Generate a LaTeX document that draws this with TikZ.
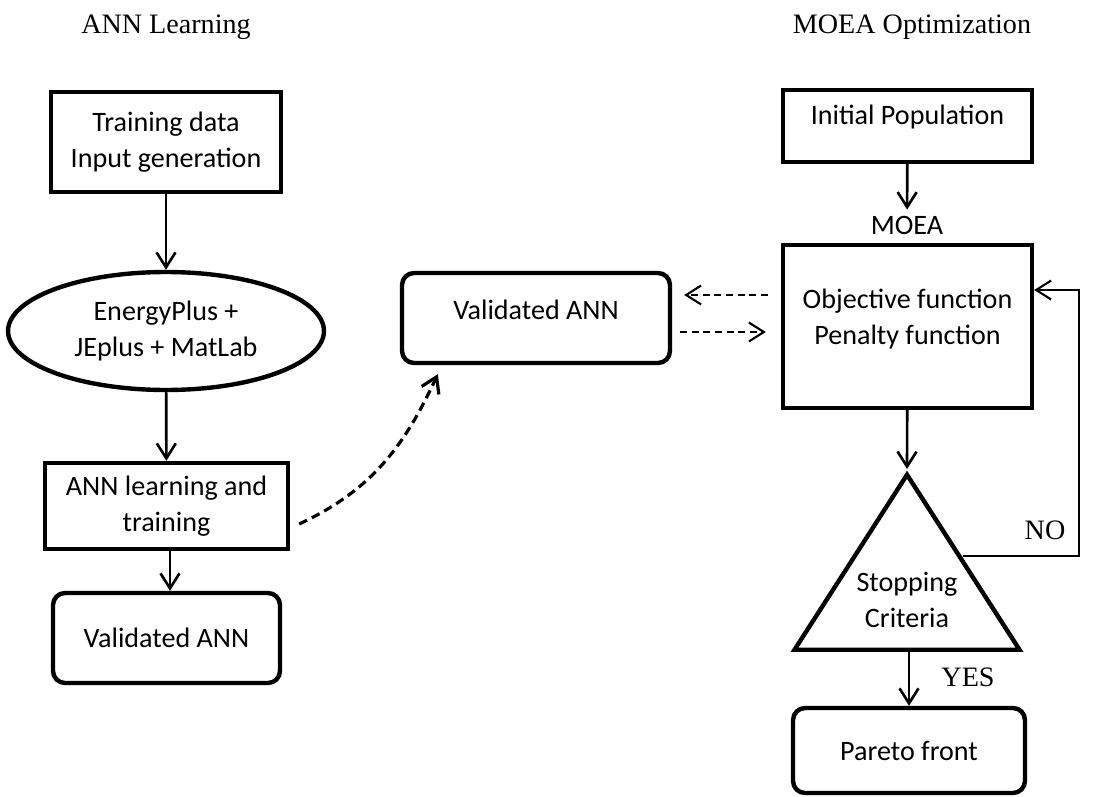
\documentclass[tikz,border=0pt]{standalone}
\usepackage{fontspec}
\setmainfont{Liberation Serif}
\newfontfamily\boxfont{Carlito}
\usetikzlibrary{arrows.meta, positioning, shapes.geometric, calc}
\tikzset{
  box/.style={
    rectangle, draw=black, line width=2.5pt,
    align=center, font=\boxfont\fontsize{16pt}{20.5pt}\selectfont
  },
  roundbox/.style={box, rounded corners=0.24cm},
  ovalbox/.style={box, ellipse, inner sep=0pt},
  trianglebox/.style={
    isosceles triangle, isosceles triangle stretches, shape border rotate=90,
    draw=black, line width=2.5pt, inner sep=0pt
  },
  uptext/.style={text height=0.45cm, text depth=#1},
  heading/.style={font=\fontsize{16pt}{19pt}\selectfont},
  tag/.style={align=center, font=\boxfont\fontsize{16pt}{20.5pt}\selectfont},
  arrow/.style={-{Straight Barb[length=0.3cm,width=0.38cm]}, line width=1.5pt},
  dasharrow/.style={arrow, line width=1.2pt, dash pattern=on 4pt off 2.6pt},
  curvearrow/.style={arrow, line width=1.8pt, dash pattern=on 5pt off 3pt},
}

\begin{document}
\begin{tikzpicture}[x=0.02cm, y=0.02cm]
  \useasboundingbox (0,0) rectangle (1108,796);

  \node[heading] (annhead) at (166,769) {ANN Learning};
  \node[heading] (moeahead) at (912,769) {MOEA Optimization};

  % ANN learning column
  \node[box, minimum width=4.6cm, minimum height=2cm] (train) at (166,654) {Training data\\Input generation};
  \node[ovalbox, minimum width=6.32cm, minimum height=2.36cm] (sim) at (166,465) {EnergyPlus +\\JEplus + MatLab};
  \node[box, minimum width=4.86cm, minimum height=1.72cm] (learn) at (166.5,290) {ANN learning and\\training};
  \node[roundbox, minimum width=4.54cm, minimum height=1.8cm] (annout) at (166.5,158) {Validated ANN};

  \draw[arrow] (train) -- (sim);
  \draw[arrow] (sim) -- (learn);
  \draw[arrow] ([xshift=0.07cm]learn.south) -- ([xshift=0.07cm]annout.north);

  % shared surrogate
  \node[roundbox, uptext=0.41cm, minimum width=5.36cm, minimum height=1.8cm] (annmid) at (536,478) {Validated ANN};

  % MOEA column
  \node[box, uptext=0.53cm, minimum width=4.98cm, minimum height=1.44cm] (init) at (907.5,670) {Initial Population};
  \node[tag] (moea) at (907,571) {MOEA};
  \node[box, text depth=0.38cm, minimum width=4.98cm, minimum height=3.26cm] (obj) at (907.5,469.5) {Objective function\\Penalty function};
  \node[trianglebox, minimum width=4.5cm, minimum height=3.5cm, anchor=apex] (stop) at (907,327) {};
  \node[tag] (stoptext) at (907,196) {Stopping\\Criteria};
  \node[roundbox, minimum width=4.64cm, minimum height=1.7cm] (pareto) at (909,45.5) {Pareto front};

  \node[heading] (yes) at (968,119) {YES};
  \node[heading] (no) at (1045,266) {NO};

  \draw[arrow] (init) -- (moea);
  \draw[arrow] (obj) -- (stop.apex);
  \draw[arrow] (pareto.north |- stop.lower side) -- (pareto.north);

  % loop back when not converged
  \coordinate (noexit) at (963,240);
  \coordinate (noturn) at (1079,506);
  \draw[arrow, line width=1.2pt] (noexit) -| (noturn) -- (noturn -| obj.east);

  % exchange with the surrogate
  \coordinate (uplev) at (0,501);
  \coordinate (lowlev) at (0,464);
  \draw[dasharrow, shorten <=0.26cm, shorten >=0.24cm] (obj.west |- uplev) -- (annmid.east |- uplev);
  \draw[dasharrow, shorten <=0.16cm, shorten >=0.3cm] (annmid.east |- lowlev) -- (obj.west |- lowlev);
  \draw[curvearrow] ([xshift=0.18cm,yshift=-0.36cm]learn.east) to[out=25,in=245] ([xshift=0.76cm,yshift=-0.18cm]annmid.south west);
\end{tikzpicture}
\end{document}
